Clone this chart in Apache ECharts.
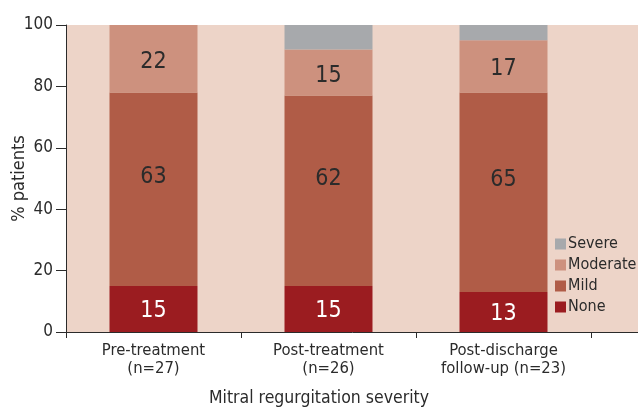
<!DOCTYPE html>
<html>
<head>
<meta charset="utf-8">
<script src="https://cdn.jsdelivr.net/npm/echarts@6/dist/echarts.min.js"></script>
<style>
  html, body { margin: 0; padding: 0; background: #ffffff; }
  #chart { width: 638px; height: 408px; }
</style>
</head>
<body>
<div id="chart"></div>
<script>
// Time points (the fourth slot is left empty and runs off the right edge)
const categories = ['Pre-treatment\n(n=27)', 'Post-treatment\n(n=26)', 'Post-discharge\nfollow-up (n=23)', ''];

// Percentage of patients in each mitral regurgitation grade
const noneValues = [15, 15, 13];
const mildValues = [63, 62, 65];
const moderateValues = [22, 15, 17];
const severeValues = [0, 8, 5];

const yTicks = { min: 0, max: 100, interval: 20 };

const FONT = '"Liberation Sans Narrow", "DejaVu Sans Condensed", sans-serif';

const chart = echarts.init(document.getElementById('chart'), null, { renderer: 'canvas' });

function stackSeries(name, values, color, labelColor, labelShift) {
  return {
    name: name,
    type: 'bar',
    stack: 'mr',
    barWidth: 88,
    data: values,
    itemStyle: { color: color },
    label: {
      show: true,
      position: 'inside',
      offset: [0, labelShift],
      fontFamily: FONT,
      fontSize: 23,
      color: labelColor,
      formatter: p => (p.value > 0 && name !== 'Severe') ? String(p.value) : ''
    },
    emphasis: { disabled: true }
  };
}

chart.setOption({
  animation: false,
  textStyle: { fontFamily: FONT },
  title: {
    text: 'Mitral regurgitation severity',
    left: 'center',
    top: 384,
    textStyle: { fontFamily: FONT, fontSize: 17.5, fontWeight: 'normal', color: '#2b2b2b' }
  },
  legend: {
    orient: 'vertical',
    left: 550,
    top: 231,
    itemWidth: 11,
    itemHeight: 11,
    itemGap: 5,
    icon: 'rect',
    data: ['Severe', 'Moderate', 'Mild', 'None'],
    textStyle: { fontFamily: FONT, fontSize: 16, color: '#2b2b2b', padding: [0, 0, 0, -3] }
  },
  grid: {
    left: 66,
    top: 25,
    width: 700,
    bottom: 76,
    outerBoundsMode: 'none',
    containLabel: false,
    show: true,
    backgroundColor: '#edd4c8',
    borderWidth: 0
  },
  xAxis: {
    type: 'category',
    data: categories,
    axisLine: { lineStyle: { color: '#2b2b2b', width: 1 } },
    axisTick: { show: true, length: 6, lineStyle: { color: '#2b2b2b' } },
    axisLabel: {
      interval: 0,
      fontFamily: FONT,
      fontSize: 16.5,
      color: '#2b2b2b',
      margin: 10,
      lineHeight: 18
    }
  },
  yAxis: {
    type: 'value',
    min: yTicks.min,
    max: yTicks.max,
    interval: yTicks.interval,
    name: '% patients',
    nameLocation: 'middle',
    nameGap: 38,
    nameMoveOverlap: false,
    nameTextStyle: { fontFamily: FONT, fontSize: 18, color: '#2b2b2b' },
    axisLine: { show: true, lineStyle: { color: '#2b2b2b', width: 1 } },
    axisTick: { show: true, length: 10, lineStyle: { color: '#2b2b2b' } },
    axisLabel: { fontFamily: FONT, fontSize: 17, color: '#2b2b2b', margin: 13 },
    splitLine: { show: false }
  },
  series: [
    stackSeries('None', noneValues, '#9b1c20', '#ffffff', 2),
    stackSeries('Mild', mildValues, '#b05c47', '#2b2b2b', -12),
    stackSeries('Moderate', moderateValues, '#cd917e', '#2b2b2b', 3),
    stackSeries('Severe', severeValues, '#a7a9ac', '#2b2b2b', 0)
  ]
});
</script>
</body>
</html>
